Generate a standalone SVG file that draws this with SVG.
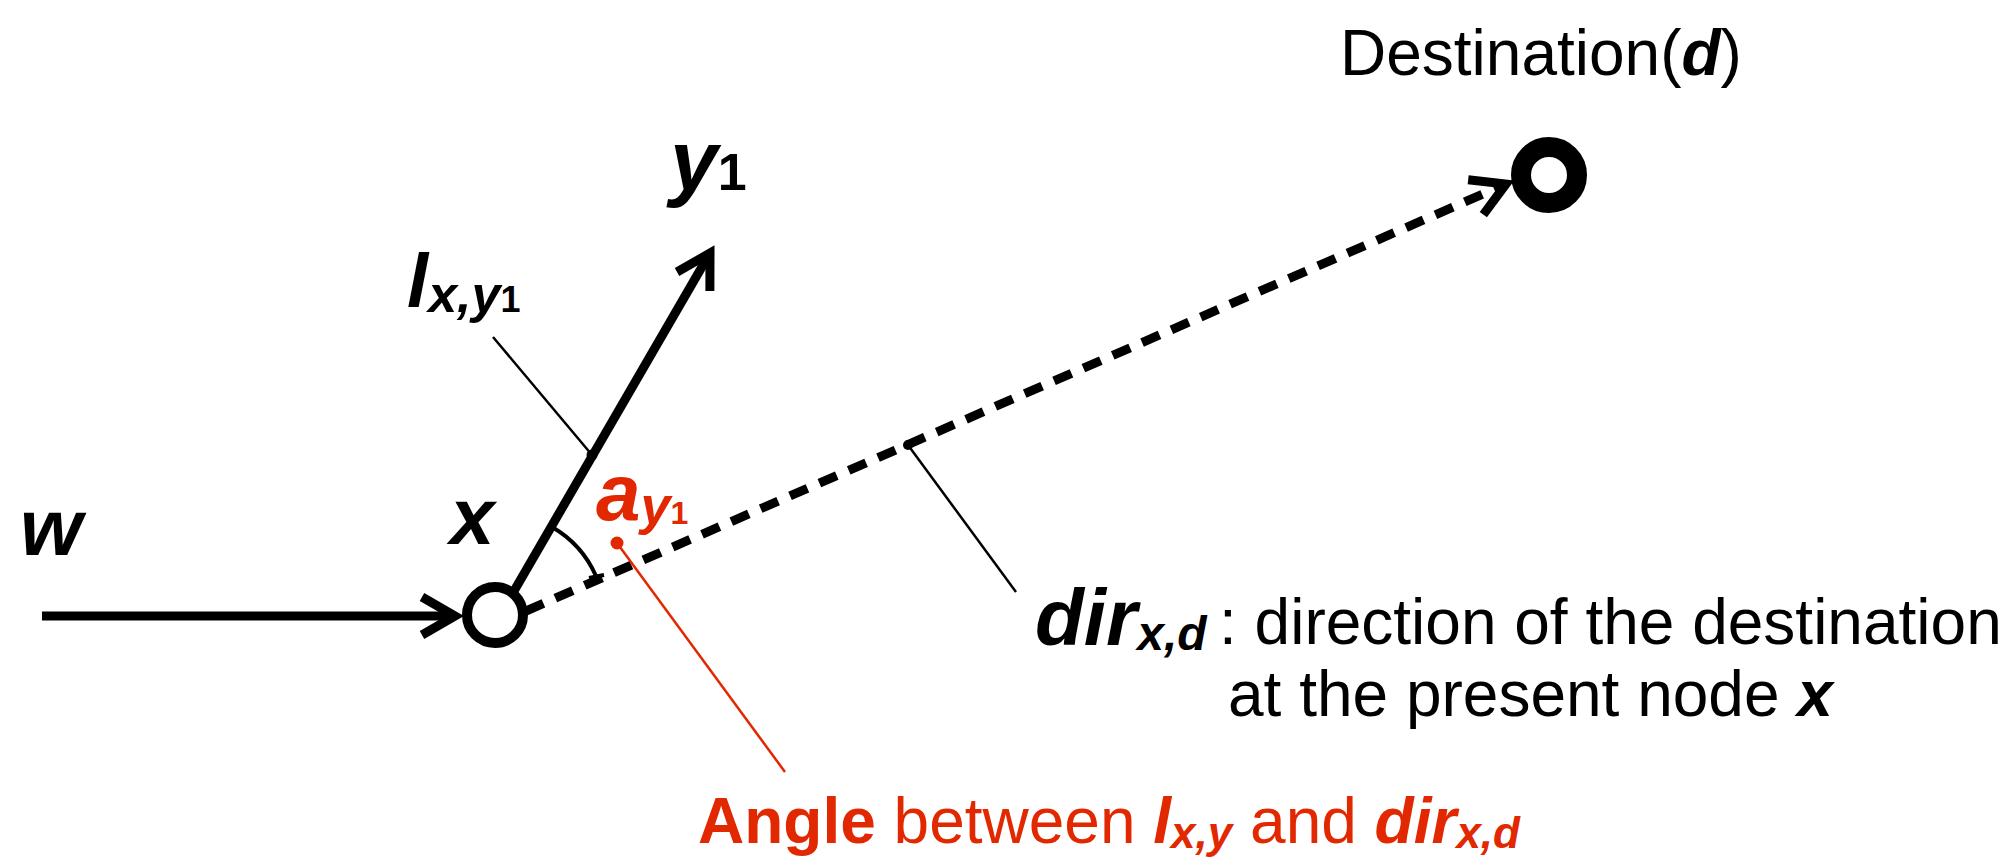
<svg xmlns="http://www.w3.org/2000/svg" width="2008" height="861" viewBox="0 0 2008 861">
<style>
.lbl{font-family:"Liberation Sans",Arial,sans-serif;fill:#000}
.bi{font-weight:bold;font-style:italic}
.b{font-weight:bold}
.red{fill:#E22800}
.edge{fill:none;stroke:#000;stroke-width:9}
.dash{stroke-dasharray:19 13}
.lead{fill:none;stroke:#000;stroke-width:2.5}
.rlead{fill:none;stroke:#E22800;stroke-width:2.5}
</style>
<defs>
<marker id="chev" markerUnits="userSpaceOnUse" viewBox="-45 -30 55 60" markerWidth="55" markerHeight="60" refX="0" refY="0" orient="auto">
<path d="M -33 -19 L 0 0 L -33 19" fill="none" stroke="#000" stroke-width="9" stroke-linejoin="miter"/>
</marker>
</defs>
<rect width="2008" height="861" fill="#fff"/>

<g id="connectors">
<line class="edge" x1="42" y1="616" x2="455" y2="616" marker-end="url(#chev)"/>
<line class="edge" x1="514" y1="591" x2="710" y2="253" marker-end="url(#chev)"/>
<line class="edge dash" x1="526" y1="611" x2="1506" y2="184" marker-end="url(#chev)"/>
</g>

<g id="annotations">
<path class="lead" d="M 493 337 L 592 455"/>
<circle cx="592" cy="455" r="5.5" fill="#000"/>
<path class="lead" d="M 908 445 L 1016 592"/>
<circle cx="908" cy="445" r="5" fill="#000"/>
<path d="M 552 527 A 106 106 0 0 1 596 576" fill="none" stroke="#000" stroke-width="4"/>
<line x1="589" y1="578" x2="604" y2="575" stroke="#000" stroke-width="4"/>
<path class="rlead" d="M 617 543 L 785 772"/>
<circle cx="617" cy="543" r="6.5" fill="#E22800"/>
</g>

<g id="node-w">
<text class="lbl bi" x="20" y="555" font-size="80">w</text>
</g>

<g id="node-x">
<circle cx="495" cy="615" r="28" fill="#fff" stroke="#000" stroke-width="10"/>
<text class="lbl bi" x="450" y="544" font-size="80">x</text>
</g>

<g id="node-y1">
<text class="lbl" x="670" y="190"><tspan class="bi" font-size="86">y</tspan><tspan class="b" font-size="52">1</tspan></text>
</g>

<g id="node-d">
<circle cx="1549" cy="175" r="28" fill="#fff" stroke="#000" stroke-width="20"/>
<text class="lbl" x="1340" y="75" font-size="64">Destination(<tspan class="bi">d</tspan>)</text>
</g>

<g id="label-l">
<text class="lbl" x="407" y="307"><tspan class="bi" font-size="76">l</tspan><tspan class="bi" font-size="52" dy="5">x,y</tspan><tspan class="b" font-size="36">1</tspan></text>
</g>

<g id="label-a">
<text class="lbl red" x="596" y="520"><tspan class="bi" font-size="80">a</tspan><tspan class="bi" font-size="54" dy="4">y</tspan><tspan class="b" font-size="32">1</tspan></text>
</g>

<g id="label-dir">
<text class="lbl" x="1035" y="645"><tspan class="bi" font-size="80">dir</tspan><tspan class="bi" font-size="48" dy="5">x,d</tspan></text>
<text class="lbl" x="1219" y="644" font-size="64">: direction of the destination</text>
<text class="lbl" x="1228" y="716" font-size="64">at the present node <tspan class="bi">x</tspan></text>
</g>

<g id="label-angle">
<text class="lbl red" x="698" y="843" font-size="64"><tspan class="b">Angle</tspan> between <tspan class="bi">l</tspan><tspan class="bi" font-size="44" dy="5">x,y</tspan><tspan dy="-5"> and </tspan><tspan class="bi">dir</tspan><tspan class="bi" font-size="44" dy="5">x,d</tspan></text>
</g>
</svg>
